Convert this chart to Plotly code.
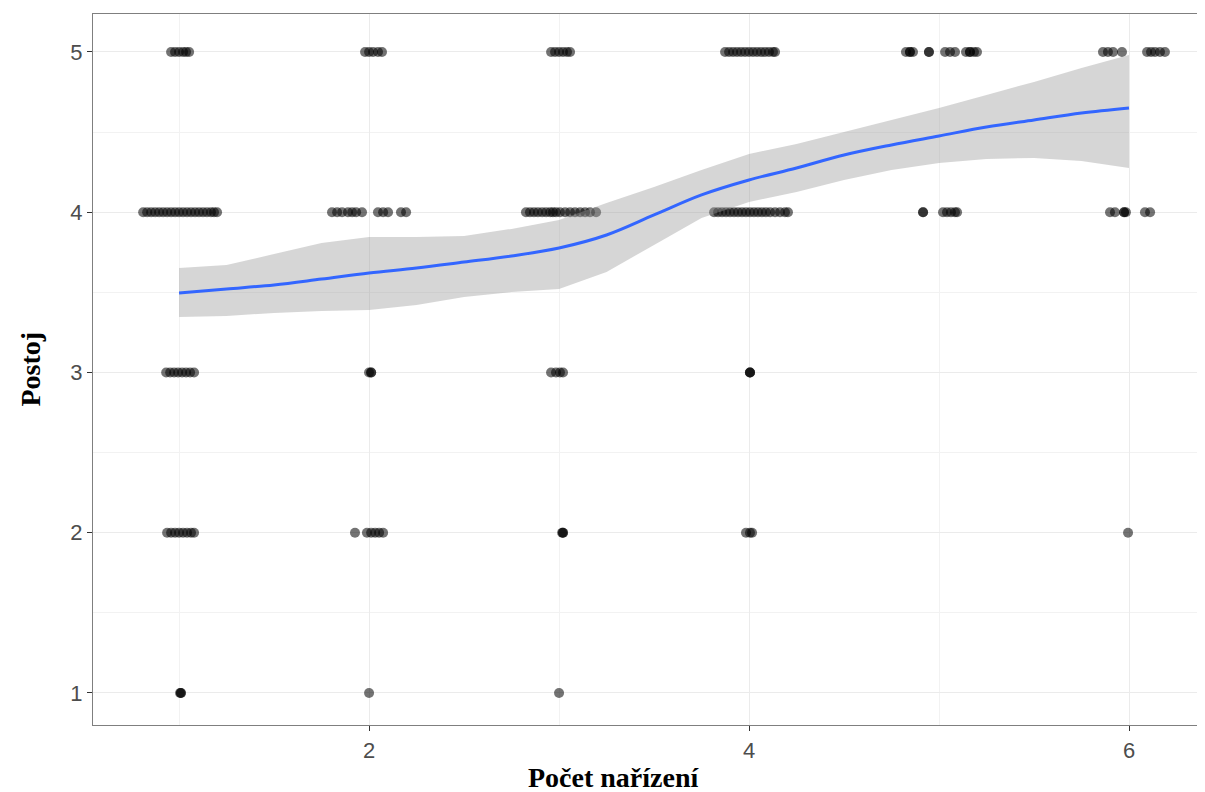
import plotly.graph_objects as go

# Jittered observations: x positions for each Postoj level
x_lvl5 = [0.958, 0.979, 1.0, 1.021, 1.037, 1.053,
          1.979, 2.0, 2.021, 2.047, 2.068,
          2.958, 2.979, 3.0, 3.021, 3.042, 3.058,
          3.874, 3.895, 3.916, 3.937, 3.958, 3.979, 4.0, 4.021, 4.042, 4.063, 4.084, 4.105, 4.126, 4.137,
          4.826, 4.847, 4.847, 4.863, 4.947, 4.947, 5.032, 5.058, 5.084, 5.142, 5.163, 5.163, 5.184, 5.2,
          5.863, 5.889, 5.916, 5.963, 6.095, 6.116, 6.137, 6.163, 6.189]
x_lvl4 = [0.811, 0.832, 0.853, 0.874, 0.895, 0.916, 0.937, 0.958, 0.979, 1.0, 1.021, 1.042,
          1.063, 1.084, 1.105, 1.126, 1.147, 1.168, 1.184, 1.2,
          1.805, 1.832, 1.858, 1.889, 1.911, 1.932, 1.963, 2.047, 2.074, 2.1, 2.168, 2.195,
          2.826, 2.847, 2.868, 2.889, 2.911, 2.932, 2.953, 2.968, 2.984, 3.005, 3.032, 3.058,
          3.084, 3.111, 3.137, 3.163, 3.195,
          3.816, 3.837, 3.858, 3.879, 3.9, 3.921, 3.942, 3.963, 3.984, 4.005, 4.026, 4.047,
          4.068, 4.089, 4.111, 4.137, 4.163, 4.189, 4.205,
          4.916, 4.916, 5.021, 5.042, 5.063, 5.084, 5.095,
          5.9, 5.926, 5.974, 5.974, 5.984, 6.084, 6.111]
x_lvl3 = [0.932, 0.953, 0.974, 0.995, 1.016, 1.037, 1.058, 1.079,
          2.0, 2.011, 2.011,
          2.958, 2.984, 3.005, 3.021,
          4.005, 4.005, 4.005]
x_lvl2 = [0.937, 0.958, 0.979, 1.0, 1.021, 1.042, 1.063, 1.079,
          1.926, 1.989, 2.011, 2.032, 2.053, 2.074,
          3.016, 3.021, 3.021,
          3.984, 4.005, 4.016,
          5.995]
x_lvl1 = [1.005, 1.01, 1.01, 2.0, 3.0]

# Loess smooth with 95% confidence band
smooth_x = [1.0, 1.25, 1.5, 1.75, 2.0, 2.25, 2.5, 2.75, 3.0, 3.25, 3.5,
            3.75, 4.0, 4.25, 4.5, 4.75, 5.0, 5.25, 5.5, 5.75, 6.0]
smooth_y = [3.496, 3.521, 3.546, 3.583, 3.621, 3.652, 3.689, 3.727, 3.777, 3.858, 3.983,
            4.108, 4.201, 4.276, 4.357, 4.420, 4.476, 4.532, 4.576, 4.619, 4.651]
smooth_hi = [3.652, 3.671, 3.739, 3.808, 3.846, 3.846, 3.852, 3.896, 3.952, 4.058, 4.158,
             4.264, 4.364, 4.426, 4.501, 4.576, 4.651, 4.732, 4.813, 4.900, 4.981]
smooth_lo = [3.346, 3.353, 3.371, 3.384, 3.390, 3.421, 3.471, 3.502, 3.521, 3.627, 3.796,
             3.964, 4.064, 4.126, 4.201, 4.264, 4.307, 4.332, 4.339, 4.320, 4.276]

x_ticks = [2, 4, 6]
y_ticks = [1, 2, 3, 4, 5]

levels = [(5, x_lvl5), (4, x_lvl4), (3, x_lvl3), (2, x_lvl2), (1, x_lvl1)]
px_all, py_all = [], []
for lvl, xs in levels:
    px_all += xs
    py_all += [lvl] * len(xs)

fig = go.Figure()
fig.add_trace(go.Scatter(
    x=px_all, y=py_all, mode="markers",
    marker=dict(color="black", size=10, opacity=0.55, line=dict(width=0)),
    showlegend=False, hoverinfo="x+y"))
fig.add_trace(go.Scatter(
    x=smooth_x + smooth_x[::-1], y=smooth_hi + smooth_lo[::-1],
    fill="toself", fillcolor="rgba(153,153,153,0.4)", line=dict(width=0),
    mode="lines", showlegend=False, hoverinfo="skip"))
fig.add_trace(go.Scatter(
    x=smooth_x, y=smooth_y, mode="lines",
    line=dict(color="#3366FF", width=3, shape="spline"),
    showlegend=False))

axis_font = dict(family="Liberation Sans, Arial, sans-serif", size=22, color="#4D4D4D")
fig.update_layout(
    width=1197, height=784,
    margin=dict(l=85, r=0, t=6, b=67),
    paper_bgcolor="white", plot_bgcolor="white",
    xaxis=dict(range=[0.547, 6.4], tickvals=x_ticks, ticktext=[str(v) for v in x_ticks],
               showgrid=True, gridcolor="#EBEBEB", gridwidth=1.2,
               minor=dict(tickvals=[1, 3, 5], showgrid=True, gridcolor="#F2F2F2", gridwidth=0.8, ticks=""),
               ticks="outside", ticklen=5, tickcolor="#333333", tickwidth=1,
               showline=True, linecolor="#7F7F7F", linewidth=1.2, mirror=True,
               zeroline=False, tickfont=axis_font),
    yaxis=dict(range=[0.80, 5.237], tickvals=y_ticks, ticktext=[str(v) for v in y_ticks],
               showgrid=True, gridcolor="#EBEBEB", gridwidth=1.2,
               minor=dict(tickvals=[1.5, 2.5, 3.5, 4.5], showgrid=True, gridcolor="#F2F2F2", gridwidth=0.8, ticks=""),
               ticks="outside", ticklen=5, tickcolor="#333333", tickwidth=1,
               showline=True, linecolor="#7F7F7F", linewidth=1.2, mirror=False,
               zeroline=False, tickfont=axis_font),
    annotations=[
        dict(text="<b>Počet nařízení</b>", xref="paper", yref="paper",
             x=(613 - 93) / 1112, y=0, yanchor="middle", xanchor="center", yshift=-52,
             showarrow=False, font=dict(family="Liberation Serif, Times New Roman, serif", size=28, color="black")),
        dict(text="<b>Postoj</b>", xref="paper", yref="paper",
             x=0, y=0.5, xanchor="center", yanchor="middle", xshift=-63, textangle=-90,
             showarrow=False, font=dict(family="Liberation Serif, Times New Roman, serif", size=28, color="black")),
    ],
)

fig.write_html("out.html")
